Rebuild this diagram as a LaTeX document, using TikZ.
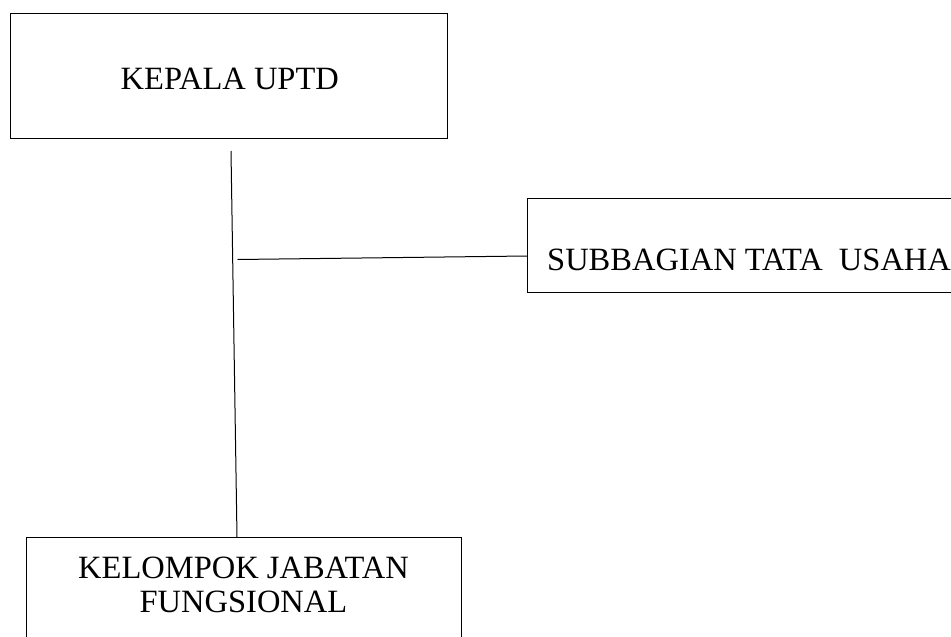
\documentclass[tikz,border=0pt]{standalone}
\usepackage{fontspec}
\setmainfont{Liberation Serif}
\begin{document}
\begin{tikzpicture}[x=1pt,y=-1pt,
  box/.style={draw, line width=1pt, inner sep=0pt, anchor=north west},
  lbl/.style={font=\fontsize{32.5}{34}\selectfont, inner sep=0pt, anchor=base west},
  conn/.style={line width=1pt}]
\useasboundingbox (0,0) rectangle (951,637);
\clip (0,0) rectangle (951,637);
\node[box, minimum width=436.5pt, minimum height=124.5pt] (kepala) at (10,13) {};
\node[lbl] (kepalatxt) at (120.5,89.5) {KEPALA UPTD};
\node[box, minimum width=440pt, minimum height=94pt] (subbag) at (527,198) {};
\node[lbl] (subbagtxt) at (547,270) {SUBBAGIAN TATA\ \ USAHA};
\node[box, minimum width=435pt, minimum height=130pt] (kelompok) at (26,537) {};
\node[lbl, anchor=base] (kel1) at (243.5,578) {KELOMPOK JABATAN};
\node[lbl, anchor=base] (kel2) at (243.5,612.5) {FUNGSIONAL};
\coordinate (vtop) at (231,151);
\coordinate (vbot) at (237,537);
\coordinate (hl) at (237.5,259.5);
\coordinate (hr) at (527,256);
\draw[conn] (vtop) -- (vbot);
\draw[conn] (hl) -- (hr);
\end{tikzpicture}
\end{document}
